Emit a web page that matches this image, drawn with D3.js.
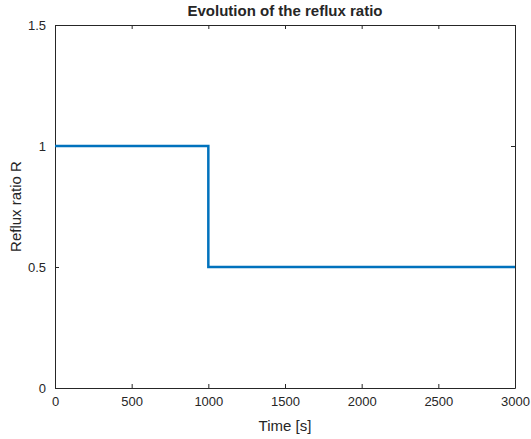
<!DOCTYPE html>
<html>
<head>
<meta charset="utf-8">
<script src="https://cdn.jsdelivr.net/npm/d3@7"></script>
<style>
body { margin: 0; background: #fff; }
text { font-family: "Liberation Sans", Arial, sans-serif; fill: #262626; }
</style>
</head>
<body>
<div id="canvas"></div>
<script>
const timeVals = [0, 1000, 1000, 3000];
const refluxVals = [1, 1, 0.5, 0.5];
const xTicks = [0, 500, 1000, 1500, 2000, 2500, 3000];
const yTicks = [0, 0.5, 1, 1.5];

const margin = { Top: 25, Right: 16, Bottom: 51, Left: 55 };
const width = 531 - margin.Left - margin.Right;
const height = 439 - margin.Top - margin.Bottom;

const svg = d3.select('#canvas').append("svg")
    .attr("width", 531)
    .attr("height", 439);

const g = svg.append("g")
    .attr("transform", `translate(${margin.Left}, ${margin.Top})`);

const x = d3.scaleLinear().domain([0, 3000]).range([0, width]);
const y = d3.scaleLinear().domain([0, 1.5]).range([height, 0]);

const styleAxis = sel => {
    sel.select(".domain").attr("stroke", "#262626").attr("stroke-width", 1);
    sel.selectAll(".tick line").attr("stroke", "#262626");
    sel.selectAll("text").style("font-size", "13px").attr("fill", "#262626");
};

g.append("g")
    .attr("transform", `translate(0, ${height})`)
    .call(d3.axisBottom(x).tickValues(xTicks).tickFormat(d3.format("d")).tickSizeInner(-4).tickSizeOuter(0).tickPadding(9))
    .call(styleAxis);

g.append("g")
    .call(d3.axisLeft(y).tickValues(yTicks).tickFormat(d3.format("")).tickSizeInner(-4).tickSizeOuter(0).tickPadding(9))
    .call(styleAxis);

g.append("g")
    .call(d3.axisTop(x).tickValues(xTicks).tickSizeInner(-4).tickSizeOuter(0).tickFormat(""))
    .call(styleAxis);

g.append("g")
    .attr("transform", `translate(${width}, 0)`)
    .call(d3.axisRight(y).tickValues(yTicks).tickSizeInner(-4).tickSizeOuter(0).tickFormat(""))
    .call(styleAxis);

const line = d3.line()
    .x((d, i) => x(timeVals[i]))
    .y((d, i) => y(refluxVals[i]));

g.append("path")
    .datum(timeVals)
    .attr("d", line)
    .attr("fill", "none")
    .attr("stroke", "#0072BD")
    .attr("stroke-width", 2.5);

svg.append("text")
    .attr("x", margin.Left + width / 2)
    .attr("y", 16)
    .attr("text-anchor", "middle")
    .style("font-size", "15px")
    .style("font-weight", "bold")
    .attr("fill", "#000")
    .text("Evolution of the reflux ratio");

svg.append("text")
    .attr("x", margin.Left + width / 2)
    .attr("y", 431)
    .attr("text-anchor", "middle")
    .style("font-size", "15px")
    .text("Time [s]");

svg.append("text")
    .attr("transform", `translate(21, ${margin.Top + height / 2}) rotate(-90)`)
    .attr("text-anchor", "middle")
    .style("font-size", "15px")
    .text("Reflux ratio R");
</script>
</body>
</html>
